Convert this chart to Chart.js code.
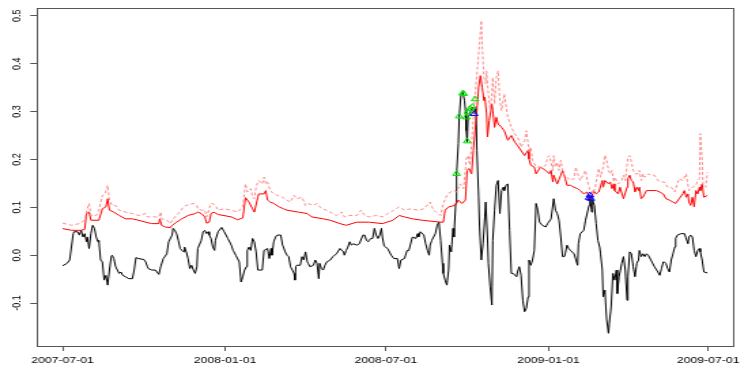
<!DOCTYPE html>
<html>
<head>
<meta charset="utf-8">
<script src="https://cdn.jsdelivr.net/npm/chart.js@4/dist/chart.umd.min.js"></script>
<style>
  html, body { margin: 0; padding: 0; background: #fff; overflow: hidden; }
  /* the reference was drawn narrower and then stretched sideways */
  #wrap { width: 548px; height: 371px; transform: scale(1.36, 1); transform-origin: 0 0; }
</style>
</head>
<body>
<div id="wrap"><canvas id="chart" width="548" height="371"></canvas></div>
<script>
// x values are days since 2007-07-01
const startDate = '2007-07-01';
const tickLabels = ['2007-07-01', '2008-01-01', '2008-07-01', '2009-01-01', '2009-07-01'];
const yTicks = [-0.1, 0.0, 0.1, 0.2, 0.3, 0.4, 0.5];

const blackDays = [
  0, 5, 8, 12, 13, 17, 19, 21, 23, 25,
  27, 28, 30, 32, 34, 36, 38, 40, 41, 43,
  45, 47, 49, 51, 53, 55, 56, 58, 60, 62,
  64, 66, 68, 71, 75, 79, 81, 83, 86, 92,
  94, 96, 97, 101, 105, 109, 111, 114, 118, 120,
  124, 125, 127, 129, 131, 133, 137, 138, 140, 142,
  144, 146, 148, 150, 152, 153, 157, 159, 161, 163,
  165, 166, 168, 170, 172, 173, 176, 180, 183, 187,
  191, 193, 194, 196, 200, 202, 204, 206, 208, 209,
  211, 213, 215, 217, 219, 221, 226, 228, 232, 234,
  236, 237, 239, 241, 243, 247, 249, 250, 252, 254,
  256, 258, 260, 262, 263, 264, 265, 269, 271, 273,
  275, 277, 278, 280, 284, 286, 288, 290, 291, 293,
  295, 297, 299, 303, 306, 310, 314, 318, 319, 321,
  323, 325, 327, 329, 333, 336, 340, 342, 344, 346,
  347, 349, 351, 353, 355, 357, 359, 361, 362, 364,
  368, 372, 375, 379, 381, 383, 387, 390, 392, 396,
  400, 402, 403, 405, 409, 411, 413, 415, 416, 418,
  420, 422, 424, 426, 428, 430, 431, 433, 435, 437,
  438, 440, 442, 443, 445, 446, 448, 449, 451, 453,
  455, 456, 457, 458, 459, 461, 462, 464, 466, 468,
  469, 471, 472, 474, 476, 478, 479, 481, 482, 484,
  486, 487, 489, 491, 493, 495, 497, 499, 500, 502,
  504, 506, 508, 510, 514, 515, 517, 519, 521, 523,
  525, 527, 528, 530, 532, 534, 536, 538, 540, 543,
  547, 549, 553, 556, 558, 560, 562, 564, 566, 568,
  569, 571, 573, 575, 579, 583, 584, 586, 590, 592,
  596, 597, 599, 600, 602, 604, 606, 608, 609, 611,
  612, 614, 615, 616, 618, 619, 621, 623, 625, 627,
  628, 630, 633, 635, 637, 639, 640, 642, 644, 646,
  648, 650, 652, 653, 655, 657, 659, 661, 663, 666,
  670, 674, 676, 678, 680, 681, 683, 685, 687, 689,
  691, 693, 694, 696, 700, 704, 708, 709, 711, 713,
  715, 717, 719, 721, 722, 724, 726, 730
];
const blackValues = [
  -0.022, -0.017, -0.010, 0.045, 0.049, 0.049, 0.042, 0.052, 0.038, 0.045,
  0.028, 0.038, 0.014, 0.045, 0.0625, 0.056, 0.038, 0.028, 0.031, -0.010,
  -0.014, -0.052, -0.042, -0.0625, -0.031, -0.003, 0, -0.007, -0.024, -0.031,
  -0.038, -0.035, -0.042, -0.045, -0.049, -0.049, -0.031, -0.005, -0.007, -0.009,
  -0.014, -0.024, -0.028, -0.031, -0.031, -0.040, -0.024, -0.007, 0.003, 0.028,
  0.042, 0.056, 0.052, 0.045, 0.031, 0.014, 0.007, 0.017, 0.007, -0.007,
  -0.028, -0.021, -0.031, -0.038, -0.024, 0.014, 0.031, 0.049, 0.052, 0.045,
  0.049, 0.042, 0.035, 0.017, 0.010, 0.031, 0.049, 0.058, 0.049, 0.035,
  0.021, 0.010, 0.007, 0, -0.014, -0.056, -0.045, -0.031, -0.024, 0.010,
  0.017, 0.010, 0.035, 0.028, 0.007, -0.031, -0.031, 0.010, 0.014, -0.007,
  0.014, 0, 0.028, 0.038, 0.042, 0.042, 0.021, 0.017, 0.007, 0,
  -0.003, -0.024, -0.031, -0.038, -0.052, -0.024, -0.021, -0.021, -0.003, -0.010,
  0.007, -0.014, -0.017, -0.024, -0.021, -0.010, -0.017, -0.049, -0.017, -0.028,
  -0.031, -0.021, -0.014, -0.010, -0.003, 0.003, 0.014, 0.007, 0, 0.010,
  0.017, 0.028, 0.021, 0.024, 0.021, 0.024, 0.042, 0.042, 0.031, 0.028,
  0.031, 0.035, 0.035, 0.056, 0.042, 0.035, 0.042, 0.056, 0.038, 0.019,
  0.014, 0, -0.007, -0.007, -0.028, -0.010, -0.007, 0.010, 0.010, 0.038,
  0.035, 0.045, 0.038, 0.049, 0.042, 0.024, 0.010, 0, 0.021, 0.031,
  0.038, 0.045, 0.0625, 0.069, 0.031, -0.017, -0.038, -0.052, -0.0625, -0.031,
  0.021, 0.007, 0.056, 0.038, 0.108, 0.170, 0.233, 0.288, 0.337, 0.340,
  0.323, 0.302, 0.260, 0.236, 0.288, 0.295, 0.302, 0.309, 0.295, 0.309,
  0.219, 0.122, 0.059, -0.010, 0.024, 0.080, 0.111, 0.038, -0.017, -0.066,
  -0.104, 0.031, 0.094, 0.146, 0.156, 0.087, 0.135, 0.142, 0.135, 0.146,
  0.149, 0.052, -0.038, -0.038, -0.045, -0.035, -0.024, -0.042, -0.094, -0.118,
  -0.111, -0.087, -0.010, -0.021, -0.010, 0.010, 0.108, 0.094, 0.069, 0.0625,
  0.059, 0.066, 0.076, 0.118, 0.094, 0.087, 0.073, 0.038, -0.003, -0.003,
  0.003, 0.021, 0.014, 0.010, 0.003, -0.021, 0.024, 0.045, 0.052, 0.073,
  0.104, 0.122, 0.090, 0.115, 0.104, 0.066, 0.031, 0.017, 0.003, -0.031,
  -0.087, -0.073, -0.108, -0.135, -0.163, -0.142, -0.108, -0.038, -0.052, -0.031,
  -0.080, -0.045, -0.017, -0.003, -0.031, -0.094, -0.045, 0.007, 0.003, -0.024,
  -0.045, -0.017, -0.010, 0.010, -0.003, 0.003, -0.003, 0.003, 0, -0.010,
  -0.024, -0.035, -0.042, -0.028, -0.014, -0.014, -0.017, -0.028, -0.035, -0.010,
  0.003, 0.017, 0.035, 0.042, 0.045, 0.045, 0.024, 0.038, 0.042, 0.038,
  0.010, -0.003, 0.010, 0.014, 0.007, -0.010, -0.035, -0.037
];

const redDays = [
  0, 10, 21, 25, 27, 30, 32, 41, 45, 49,
  51, 53, 58, 64, 71, 79, 86, 94, 101, 109,
  110, 112, 116, 122, 124, 129, 135, 142, 150, 153,
  157, 161, 163, 166, 168, 171, 176, 191, 198, 204,
  207, 211, 215, 217, 221, 222, 228, 230, 232, 235,
  239, 245, 250, 254, 267, 277, 282, 295, 303, 314,
  321, 333, 347, 362, 374, 381, 387, 396, 407, 428,
  431, 433, 437, 444, 448, 452, 456, 458, 460, 463,
  465, 467, 469, 471, 473, 475, 477, 478, 480, 481,
  483, 486, 487, 489, 491, 493, 497, 500, 504, 508,
  512, 515, 523, 527, 528, 530, 534, 536, 541, 547,
  551, 553, 555, 556, 560, 564, 566, 569, 571, 575,
  579, 583, 586, 590, 594, 596, 599, 601, 604, 607,
  611, 612, 614, 618, 620, 622, 624, 625, 629, 631,
  635, 639, 640, 642, 644, 646, 648, 650, 652, 653,
  655, 657, 661, 665, 672, 676, 680, 683, 687, 691,
  694, 698, 702, 704, 706, 708, 709, 711, 713, 715,
  717, 719, 721, 722, 724, 726, 730
];
const redValues = [
  0.0556, 0.052, 0.052, 0.054, 0.087, 0.090, 0.073, 0.073, 0.097, 0.101,
  0.118, 0.094, 0.090, 0.083, 0.076, 0.076, 0.073, 0.069, 0.066, 0.066,
  0.076, 0.0625, 0.059, 0.0576, 0.0625, 0.069, 0.076, 0.083, 0.087, 0.090,
  0.087, 0.080, 0.067, 0.069, 0.087, 0.090, 0.085, 0.080, 0.074, 0.078,
  0.120, 0.111, 0.097, 0.090, 0.121, 0.128, 0.128, 0.135, 0.115, 0.111,
  0.108, 0.101, 0.097, 0.094, 0.090, 0.087, 0.080, 0.076, 0.073, 0.066,
  0.0625, 0.069, 0.069, 0.066, 0.073, 0.083, 0.080, 0.076, 0.073, 0.069,
  0.069, 0.094, 0.101, 0.104, 0.115, 0.108, 0.115, 0.177, 0.181, 0.170,
  0.219, 0.260, 0.302, 0.351, 0.375, 0.351, 0.323, 0.330, 0.295, 0.247,
  0.281, 0.316, 0.302, 0.267, 0.288, 0.274, 0.267, 0.260, 0.240, 0.250,
  0.236, 0.229, 0.208, 0.219, 0.201, 0.188, 0.184, 0.170, 0.184, 0.177,
  0.170, 0.177, 0.153, 0.167, 0.149, 0.167, 0.177, 0.160, 0.146, 0.146,
  0.142, 0.139, 0.135, 0.128, 0.132, 0.118, 0.118, 0.135, 0.128, 0.132,
  0.156, 0.142, 0.156, 0.149, 0.153, 0.139, 0.149, 0.135, 0.128, 0.142,
  0.118, 0.142, 0.160, 0.167, 0.156, 0.153, 0.132, 0.142, 0.135, 0.142,
  0.118, 0.121, 0.135, 0.135, 0.135, 0.132, 0.128, 0.118, 0.115, 0.111,
  0.108, 0.118, 0.128, 0.135, 0.121, 0.128, 0.111, 0.104, 0.121, 0.101,
  0.135, 0.128, 0.142, 0.135, 0.149, 0.121, 0.125
];

const dashDays = [
  0, 10, 19, 25, 28, 30, 32, 38, 41, 45,
  48, 51, 53, 56, 60, 64, 71, 79, 86, 94,
  96, 101, 109, 111, 112, 118, 122, 125, 131, 137,
  140, 148, 152, 153, 157, 161, 163, 166, 168, 170,
  174, 176, 183, 191, 198, 204, 206, 207, 209, 213,
  215, 217, 219, 221, 222, 226, 228, 230, 232, 235,
  239, 243, 249, 254, 258, 262, 265, 271, 275, 278,
  284, 288, 291, 295, 303, 310, 316, 319, 325, 333,
  338, 342, 347, 355, 362, 368, 375, 381, 387, 394,
  402, 409, 416, 420, 428, 431, 435, 439, 443, 446,
  450, 454, 457, 459, 461, 463, 465, 467, 469, 472,
  474, 475, 477, 479, 480, 482, 484, 486, 487, 489,
  491, 493, 495, 497, 500, 504, 508, 512, 515, 519,
  523, 525, 527, 528, 530, 532, 534, 536, 540, 543,
  547, 549, 551, 553, 555, 556, 558, 560, 562, 564,
  566, 568, 571, 575, 579, 581, 583, 586, 590, 592,
  594, 596, 597, 600, 603, 605, 607, 609, 612, 614,
  616, 618, 620, 622, 624, 625, 629, 633, 635, 637,
  640, 642, 644, 646, 648, 652, 653, 655, 657, 659,
  663, 666, 670, 674, 678, 681, 685, 689, 693, 696,
  698, 702, 706, 709, 713, 717, 719, 721, 722, 724,
  725, 728, 730
];
const dashValues = [
  0.067, 0.0625, 0.066, 0.073, 0.097, 0.108, 0.083, 0.083, 0.094, 0.125,
  0.128, 0.146, 0.115, 0.104, 0.104, 0.094, 0.090, 0.087, 0.083, 0.087,
  0.080, 0.080, 0.080, 0.090, 0.076, 0.073, 0.066, 0.076, 0.087, 0.101,
  0.104, 0.108, 0.104, 0.097, 0.094, 0.094, 0.080, 0.097, 0.108, 0.108,
  0.101, 0.094, 0.097, 0.094, 0.090, 0.101, 0.135, 0.149, 0.132, 0.139,
  0.121, 0.118, 0.142, 0.153, 0.156, 0.149, 0.163, 0.149, 0.153, 0.135,
  0.128, 0.125, 0.121, 0.115, 0.111, 0.125, 0.118, 0.121, 0.104, 0.108,
  0.104, 0.108, 0.101, 0.097, 0.090, 0.083, 0.090, 0.080, 0.083, 0.083,
  0.094, 0.083, 0.080, 0.083, 0.080, 0.087, 0.094, 0.101, 0.094, 0.097,
  0.094, 0.097, 0.111, 0.094, 0.083, 0.108, 0.125, 0.132, 0.135, 0.132,
  0.149, 0.139, 0.201, 0.208, 0.188, 0.233, 0.288, 0.337, 0.378, 0.441,
  0.490, 0.441, 0.371, 0.358, 0.385, 0.337, 0.302, 0.337, 0.371, 0.316,
  0.371, 0.385, 0.323, 0.302, 0.337, 0.288, 0.267, 0.253, 0.247, 0.226,
  0.240, 0.260, 0.233, 0.215, 0.226, 0.198, 0.192, 0.184, 0.184, 0.184,
  0.188, 0.205, 0.208, 0.194, 0.177, 0.208, 0.184, 0.194, 0.177, 0.198,
  0.177, 0.167, 0.163, 0.156, 0.160, 0.184, 0.170, 0.156, 0.170, 0.177,
  0.156, 0.142, 0.135, 0.128, 0.142, 0.163, 0.181, 0.163, 0.184, 0.209,
  0.198, 0.177, 0.170, 0.177, 0.153, 0.163, 0.149, 0.156, 0.167, 0.156,
  0.205, 0.208, 0.194, 0.177, 0.170, 0.170, 0.177, 0.156, 0.170, 0.163,
  0.170, 0.167, 0.167, 0.156, 0.153, 0.153, 0.142, 0.142, 0.132, 0.149,
  0.160, 0.156, 0.170, 0.135, 0.142, 0.146, 0.156, 0.160, 0.254, 0.198,
  0.146, 0.142, 0.173
];

const greenDays = [446, 449, 453, 454, 457, 458, 459, 461, 464, 467];
const greenValues = [0.170, 0.290, 0.338, 0.337, 0.288, 0.238, 0.299, 0.306, 0.310, 0.326];
const blueDays = [466, 596, 597, 598];
const blueValues = [0.295, 0.120, 0.125, 0.118];

const DAY = 86400000;
const t0 = Date.parse(startDate);
const tickDays = tickLabels.map(d => Math.round((Date.parse(d) - t0) / DAY));
const pts = (xs, ys) => xs.map((x, i) => ({ x: x, y: ys[i] }));

const tickFont = { family: "'Liberation Sans', Arial, sans-serif", size: 9 };

const boxPlugin = {
    id: 'box',
    beforeDatasetsDraw(chart) {
        const a = chart.chartArea;
        const c = chart.ctx;
        c.save();
        c.strokeStyle = '#555';
        c.lineWidth = 1;
        c.strokeRect(Math.round(a.left) + 0.5, Math.round(a.top) + 0.5,
            Math.round(a.right - a.left), Math.round(a.bottom - a.top));
        c.restore();
    }
};

const ctx = document.getElementById('chart').getContext('2d');
new Chart(ctx, {
    type: 'line',
    data: {
        datasets: [
            {
                data: pts(greenDays, greenValues),
                showLine: false,
                pointStyle: 'triangle',
                pointRadius: 3.2,
                borderColor: '#00e000',
                backgroundColor: 'rgba(0,0,0,0)',
                pointBorderWidth: 1,
                order: 0
            },
            {
                data: pts(blueDays, blueValues),
                showLine: false,
                pointStyle: 'triangle',
                pointRadius: 3.2,
                borderColor: '#0000ff',
                backgroundColor: 'rgba(0,0,0,0)',
                pointBorderWidth: 1,
                order: 0
            },
            {
                data: pts(dashDays, dashValues),
                borderColor: '#ff8a8a',
                borderWidth: 1,
                borderDash: [3, 2],
                pointRadius: 0,
                order: 1
            },
            {
                data: pts(redDays, redValues),
                borderColor: '#ff0000',
                borderWidth: 1,
                pointRadius: 0,
                order: 2
            },
            {
                data: pts(blackDays, blackValues),
                borderColor: '#000000',
                borderWidth: 1,
                pointRadius: 0,
                order: 3
            }
        ]
    },
    options: {
        responsive: false,
        animation: false,
        devicePixelRatio: 1,
        layout: { padding: { top: 7, right: 2.4, left: 0, bottom: 0 } },
        plugins: {
            legend: { display: false },
            tooltip: { enabled: false }
        },
        elements: { line: { tension: 0 } },
        scales: {
            x: {
                type: 'linear',
                min: -29,
                max: 760,
                afterBuildTicks: s => { s.ticks = tickDays.map(v => ({ value: v })); },
                afterFit: s => { s.height = 25; },
                border: { display: false },
                grid: { drawOnChartArea: false, drawTicks: true, tickLength: 5, color: '#555' },
                ticks: {
                    autoSkip: false,
                    maxRotation: 0,
                    padding: 4,
                    color: '#000',
                    font: tickFont,
                    callback: (v, i) => tickLabels[i]
                }
            },
            y: {
                type: 'linear',
                min: -0.1896,
                max: 0.5167,
                afterBuildTicks: s => { s.ticks = yTicks.map(v => ({ value: v })); },
                afterFit: s => { s.width = 27.2; },
                border: { display: false },
                grid: { drawOnChartArea: false, drawTicks: true, tickLength: 5, color: '#555' },
                ticks: {
                    minRotation: 90,
                    maxRotation: 90,
                    crossAlign: 'center',
                    padding: 2.4,
                    color: '#000',
                    font: tickFont,
                    callback: v => v.toFixed(1)
                }
            }
        }
    },
    plugins: [boxPlugin]
});
</script>
</body>
</html>
